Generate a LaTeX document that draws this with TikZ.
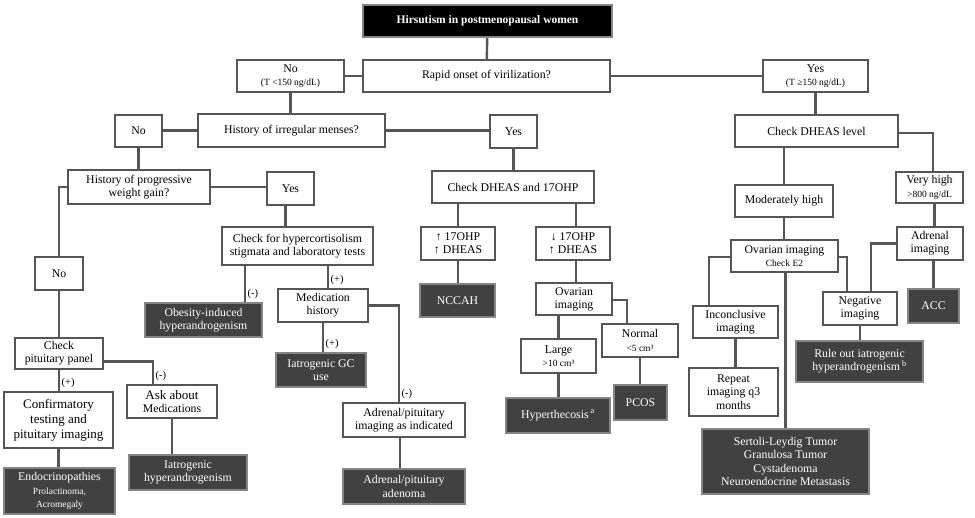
\documentclass[tikz,border=0pt]{standalone}
\usepackage{fontspec}
\setmainfont{Liberation Serif}
\usepackage{xcolor}
\usepackage{tikz}
\usetikzlibrary{positioning}

\definecolor{edgegray}{HTML}{555555}
\definecolor{endfill}{HTML}{414141}
\definecolor{endedge}{HTML}{858585}

\begin{document}
\begin{tikzpicture}[
    x=1pt, y=-1pt,
    font=\fontsize{11.8}{13.2}\selectfont,
    box/.style={
        draw=edgegray,
        fill=white,
        line width=2.4pt,
        align=center,
        inner sep=0pt
    },
    endbox/.style={
        box,
        draw=endedge,
        fill=endfill,
        text=white
    },
    titlebox/.style={
        box,
        draw=endedge,
        fill=black,
        text=white,
        font=\fontsize{11.5}{13}\selectfont\bfseries
    },
    link/.style={
        draw=edgegray,
        line width=2.4pt
    },
    sign/.style={
        font=\fontsize{10.5}{12}\selectfont,
        inner sep=1.5pt
    }
]
\useasboundingbox (0,0) rectangle (975,518);
\newcommand{\sm}{\fontsize{9.5}{12}\selectfont}

% Top
\node[titlebox, minimum width=249, minimum height=32] (title) at (487.5,21) {Hirsutism in postmenopausal women};
\node[box, minimum width=247, minimum height=32] (rapid) at (486.5,76) {Rapid onset of virilization?};
\node[box, minimum width=107, minimum height=32] (noT) at (290.5,76) {No\\{\sm(T <150 ng/dL)}};
\node[box, minimum width=105, minimum height=32] (yesT) at (815.5,76) {Yes\\{\sm(T ≥150 ng/dL)}};

% Low testosterone side
\node[box, minimum width=187, minimum height=33] (menses) at (291.5,130.5) {History of irregular menses?};
\node[box, minimum width=47, minimum height=32] (noA) at (138.5,131) {No};
\node[box, minimum width=47, minimum height=33] (yesA) at (513.5,131.5) {Yes};
\node[box, minimum width=142, minimum height=34] (wgain) at (139,187) {History of progressive\\weight gain?};
\node[box, minimum width=47, minimum height=33] (yesB) at (290.5,188.5) {Yes};
\node[box, minimum width=48, minimum height=33] (noC) at (59,273.5) {No};
\node[box, minimum width=151, minimum height=38] (hyperc) at (297.5,246) {Check for hypercortisolism\\stigmata and laboratory tests};
\node[endbox, minimum width=117, minimum height=34] (obesity) at (203.5,320) {Obesity-induced\\hyperandrogenism};
\node[box, minimum width=90, minimum height=33] (medhist) at (323,305.5) {Medication\\history};
\node[endbox, minimum width=90, minimum height=34] (gcuse) at (321,370) {Iatrogenic GC\\use};
\node[box, minimum width=122, minimum height=34] (adrpit) at (404,420) {Adrenal/pituitary\\imaging as indicated};
\node[endbox, minimum width=122, minimum height=35] (adenoma) at (404,486.5) {Adrenal/pituitary\\adenoma};
\node[box, minimum width=88, minimum height=31] (pitpan) at (59,353.5) {Check\\pituitary panel};
\node[box, minimum width=109, minimum height=56, font=\fontsize{13}{15}\selectfont] (confirm) at (58.5,420) {Confirmatory\\testing and\\pituitary imaging};
\node[box, minimum width=90, minimum height=33] (askmed) at (172,401.5) {{\fontsize{13}{15}\selectfont Ask about}\\Medications};
\node[endbox, minimum width=111, minimum height=46] (endo) at (59.5,491) {Endocrinopathies\\{\sm Prolactinoma,}\\{\sm Acromegaly}};
\node[endbox, minimum width=118, minimum height=35] (iatroh) at (188,472.5) {Iatrogenic\\hyperandrogenism};

% Middle branch
\node[box, minimum width=162, minimum height=32] (dh17) at (513,187) {Check DHEAS and 17OHP};
\node[box, minimum width=74, minimum height=33] (up17) at (458,243.5) {↑ 17OHP\\↑ DHEAS};
\node[box, minimum width=74, minimum height=33] (dn17) at (573,243.5) {↓ 17OHP\\↑ DHEAS};
\node[endbox, minimum width=75, minimum height=33] (nccah) at (457.5,300.5) {NCCAH};
\node[box, minimum width=76, minimum height=32] (ovarM) at (574,299) {Ovarian\\imaging};
\node[box, minimum width=76, minimum height=33] (normal) at (640,340.5) {Normal\\{\sm<5 cm³}};
\node[box, minimum width=75, minimum height=34] (large) at (558.5,356) {Large\\{\sm>10 cm³}};
\node[endbox, minimum width=53, minimum height=35] (pcos) at (640.5,402.5) {PCOS};
\node[endbox, minimum width=104, minimum height=35] (hyperth) at (558,415.5) {Hyperthecosis\,\textsuperscript{a}};

% High testosterone side
\node[box, minimum width=163, minimum height=32] (dheas) at (816.5,131) {Check DHEAS level};
\node[box, minimum width=98, minimum height=32] (modhigh) at (784,201) {Moderately high};
\node[box, minimum width=67, minimum height=31] (vhigh) at (929.5,187.5) {Very high\\{\sm>800 ng/dL}};
\node[box, minimum width=107, minimum height=32] (ovarE2) at (784.5,256) {Ovarian imaging\\{\sm Check E2}};
\node[box, minimum width=66, minimum height=33] (adrimg) at (930,243.5) {Adrenal\\imaging};
\node[endbox, minimum width=51, minimum height=34] (acc) at (933.5,306) {ACC};
\node[box, minimum width=74, minimum height=33] (negimg) at (860,308.5) {Negative\\imaging};
\node[box, minimum width=85, minimum height=32] (inconcl) at (735.5,322) {Inconclusive\\imaging};
\node[endbox, minimum width=127, minimum height=41] (rule) at (859.5,361.5) {Rule out iatrogenic\\hyperandrogenism\,\textsuperscript{b}};
\node[box, minimum width=89, minimum height=48] (repeat) at (733.5,392) {Repeat\\imaging q3\\months};
\node[endbox, minimum width=167, minimum height=65] (sertoli) at (785.5,461.5) {Sertoli-Leydig Tumor\\Granulosa Tumor\\Cystadenoma\\Neuroendocrine Metastasis};

% Connectors, top
\draw[link] (title) -- (rapid);
\draw[link] (rapid) -- (noT);
\draw[link] (rapid) -- (yesT);
\draw[link] (noT.south) -- (noT.south |- menses.north);
\draw[link] (menses.west) -- (menses.west -| noA.east);
\draw[link] (menses.east) -- (menses.east -| yesA.west);
\draw[link] (yesT.south) -- (yesT.south |- dheas.north);

% Connectors, left
\draw[link] (noA.south) -- (noA.south |- wgain.north);
\draw[link] (wgain.east) -- (wgain.east -| yesB.west);
\draw[link] (wgain.west) -| (noC.north);
\draw[link] ([xshift=-5pt]yesB.south) -- ([xshift=-5pt]yesB.south |- hyperc.north);
\draw[link] ([xshift=41.5pt]obesity.north |- hyperc.south) -- ([xshift=41.5pt]obesity.north) node[sign, anchor=south west] {(-)};
\draw[link] ([xshift=5pt]medhist.north |- hyperc.south) -- ([xshift=5pt]medhist.north) node[sign, anchor=south west] {(+)};
\draw[link] ([xshift=2pt]gcuse.north |- medhist.south) -- ([xshift=2pt]gcuse.north) node[sign, anchor=south west] {(+)};
\draw[link] (medhist.east) -| ([xshift=-5pt]adrpit.north) node[sign, anchor=south west] {(-)};
\draw[link] ([xshift=-4pt]adrpit.south) -- ([xshift=-4pt]adenoma.north);
\draw[link] (noC) -- (pitpan);
\draw[link] (pitpan.south) -- (pitpan.south |- confirm.north) node[sign, anchor=south west] {(+)};
\draw[link] ([yshift=-8pt]pitpan.east) -| ([xshift=-19pt]askmed.north) node[sign, anchor=south west] {(-)};
\draw[link] (confirm.south) -- (confirm.south |- endo.north);
\draw[link] (askmed.south) -- (askmed.south |- iatroh.north);

% Connectors, middle
\draw[link] (yesA.south) -- (yesA.south |- dh17.north);
\draw[link] (up17.north |- dh17.south) -- (up17.north);
\draw[link] ([xshift=3pt]dn17.north |- dh17.south) -- ([xshift=3pt]dn17.north);
\draw[link] (up17.south) -- (up17.south |- nccah.north);
\draw[link] ([xshift=3pt]dn17.south) -- ([xshift=3pt]dn17.south |- ovarM.north);
\draw[link] ([yshift=-1pt]ovarM.east) -| ([xshift=-13pt]normal.north);
\draw[link] (large.north |- ovarM.south) -- (large.north);
\draw[link] (large.south) -- (large.south |- hyperth.north);
\draw[link] (normal.south) -- (normal.south |- pcos.north);

% Connectors, right
\draw[link] ([yshift=-2pt]dheas.east) -| ([xshift=3.5pt]vhigh.north);
\draw[link] (modhigh.north |- dheas.south) -- (modhigh.north);
\draw[link] (modhigh.south) -- (modhigh.south |- ovarE2.north);
\draw[link] ([xshift=5pt]vhigh.south) -- ([xshift=5pt]vhigh.south |- adrimg.north);
\draw[link] (acc.north |- adrimg.south) -- (acc.north);
\draw[link] ([yshift=-1pt]ovarE2.west) -| ([xshift=-26.5pt]inconcl.north);
\draw[link] ([yshift=-1pt]ovarE2.east) -| ([xshift=-13pt]negimg.north);
\draw[link] (adrimg.west) -| ([xshift=11pt]negimg.north);
\draw[link] (sertoli.north |- ovarE2.south) -- (sertoli.north);
\draw[link] (inconcl.south) -- (inconcl.south |- repeat.north);
\draw[link] (negimg.south) -- (negimg.south |- rule.north);

\end{tikzpicture}
\end{document}
